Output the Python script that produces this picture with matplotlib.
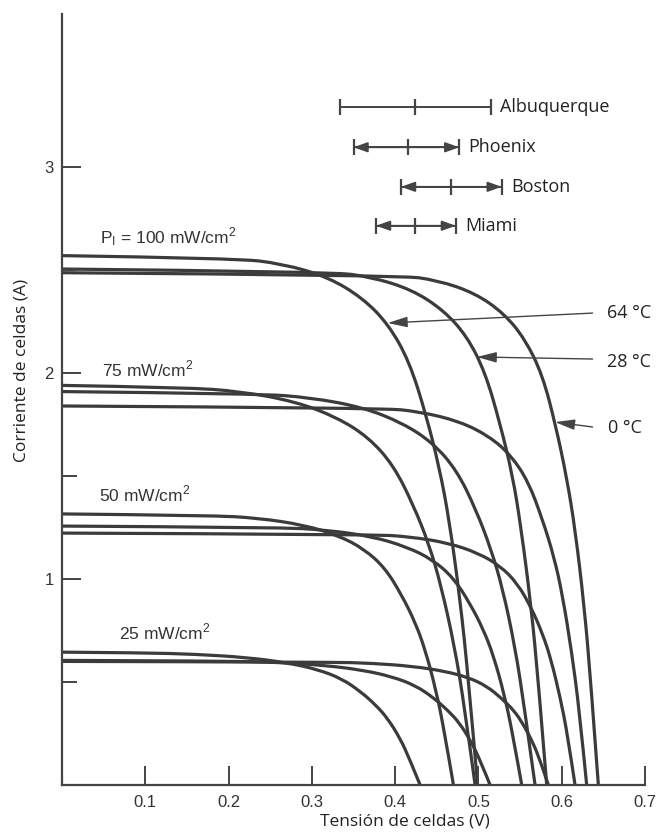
import matplotlib.pyplot as plt
from matplotlib.path import Path
from matplotlib.patches import PathPatch

# I-V curves: cell voltage (V) and cell current (A)
# 100 mW/cm2
v_100_64 = [0, 0.209, 0.264, 0.319, 0.361, 0.392, 0.417, 0.437, 0.453, 0.465, 0.478, 0.488, 0.499]
i_100_64 = [2.57, 2.557, 2.531, 2.467, 2.364, 2.236, 2.056, 1.799, 1.542, 1.285, 0.900, 0.514, 0]
v_100_28 = [0, 0.321, 0.371, 0.420, 0.458, 0.486, 0.508, 0.526, 0.541, 0.551, 0.563, 0.572, 0.582]
i_100_28 = [2.505, 2.492, 2.467, 2.405, 2.305, 2.180, 2.005, 1.754, 1.503, 1.253, 0.877, 0.501, 0]
v_100_0 = [0, 0.406, 0.451, 0.496, 0.531, 0.556, 0.577, 0.593, 0.606, 0.616, 0.627, 0.635, 0.644]
i_100_0 = [2.487, 2.475, 2.450, 2.388, 2.288, 2.164, 1.990, 1.741, 1.492, 1.244, 0.870, 0.497, 0]
# 75 mW/cm2
v_75_64 = [0, 0.148, 0.214, 0.280, 0.330, 0.368, 0.398, 0.422, 0.441, 0.455, 0.471, 0.483, 0.496]
i_75_64 = [1.94, 1.930, 1.911, 1.862, 1.785, 1.688, 1.552, 1.358, 1.164, 0.970, 0.679, 0.388, 0]
v_75_28 = [0, 0.235, 0.298, 0.361, 0.409, 0.445, 0.474, 0.497, 0.515, 0.529, 0.544, 0.555, 0.568]
i_75_28 = [1.91, 1.900, 1.881, 1.834, 1.757, 1.662, 1.528, 1.337, 1.146, 0.955, 0.669, 0.382, 0]
v_75_0 = [0, 0.384, 0.430, 0.477, 0.513, 0.539, 0.560, 0.577, 0.591, 0.601, 0.612, 0.621, 0.630]
i_75_0 = [1.84, 1.831, 1.812, 1.766, 1.693, 1.601, 1.472, 1.288, 1.104, 0.920, 0.644, 0.368, 0]
# 50 mW/cm2
v_50_64 = [0, 0.180, 0.235, 0.290, 0.332, 0.363, 0.388, 0.408, 0.424, 0.436, 0.449, 0.459, 0.470]
i_50_64 = [1.316, 1.309, 1.296, 1.263, 1.211, 1.145, 1.053, 0.921, 0.790, 0.658, 0.461, 0.263, 0]
v_50_28 = [0, 0.262, 0.317, 0.372, 0.414, 0.445, 0.470, 0.490, 0.506, 0.518, 0.531, 0.541, 0.552]
i_50_28 = [1.257, 1.251, 1.238, 1.207, 1.156, 1.094, 1.006, 0.880, 0.754, 0.629, 0.440, 0.251, 0]
v_50_0 = [0, 0.372, 0.419, 0.465, 0.500, 0.526, 0.547, 0.564, 0.577, 0.587, 0.598, 0.607, 0.616]
i_50_0 = [1.223, 1.217, 1.205, 1.174, 1.125, 1.064, 0.978, 0.856, 0.734, 0.612, 0.428, 0.245, 0]
# 25 mW/cm2
v_25_64 = [0, 0.097, 0.160, 0.223, 0.271, 0.307, 0.336, 0.359, 0.377, 0.391, 0.406, 0.417, 0.430]
i_25_64 = [0.645, 0.642, 0.635, 0.619, 0.593, 0.561, 0.516, 0.452, 0.387, 0.323, 0.226, 0.129, 0]
v_25_28 = [0, 0.195, 0.256, 0.316, 0.362, 0.396, 0.424, 0.446, 0.463, 0.477, 0.491, 0.502, 0.514]
i_25_28 = [0.605, 0.602, 0.596, 0.581, 0.557, 0.526, 0.484, 0.424, 0.363, 0.303, 0.212, 0.121, 0]
v_25_0 = [0, 0.323, 0.373, 0.422, 0.460, 0.488, 0.510, 0.528, 0.543, 0.553, 0.565, 0.574, 0.584]
i_25_0 = [0.600, 0.597, 0.591, 0.576, 0.552, 0.522, 0.480, 0.420, 0.360, 0.300, 0.210, 0.120, 0]

# voltage ranges per city (low, mid, high)
cities = ['Albuquerque', 'Phoenix', 'Boston', 'Miami']
v_low = [0.334, 0.350, 0.407, 0.377]
v_mid = [0.424, 0.416, 0.467, 0.424]
v_high = [0.515, 0.477, 0.528, 0.473]

x_ticks = [0.1, 0.2, 0.3, 0.4, 0.5, 0.6, 0.7]
y_ticks = [1, 2, 3]
y_minor = [0.5, 1.5, 2.5]

curves = [
    (v_100_64, i_100_64), (v_100_28, i_100_28), (v_100_0, i_100_0),
    (v_75_64, i_75_64), (v_75_28, i_75_28), (v_75_0, i_75_0),
    (v_50_64, i_50_64), (v_50_28, i_50_28), (v_50_0, i_50_0),
    (v_25_64, i_25_64), (v_25_28, i_25_28), (v_25_0, i_25_0),
]

line_col = '#3b3b3b'
tick_font = 'Liberation Sans'
label_font = 'Open Sans'


def smooth_path(v, i):
    # quadratic bezier through the read points, so the curve has no corners
    pts = list(zip(v, i))
    verts = [pts[0]]
    codes = [Path.MOVETO]
    for k in range(1, len(pts) - 2):
        mid = ((pts[k][0] + pts[k + 1][0]) / 2, (pts[k][1] + pts[k + 1][1]) / 2)
        verts += [pts[k], mid]
        codes += [Path.CURVE3, Path.CURVE3]
    verts += [pts[-2], pts[-1]]
    codes += [Path.CURVE3, Path.CURVE3]
    return Path(verts, codes)


fig = plt.figure(figsize=(6.6, 8.36), dpi=100)
ax = fig.add_axes([62 / 660, 51 / 836, (645 - 62) / 660, (822 - 51) / 836])

for v, i in curves:
    ax.add_patch(PathPatch(smooth_path(v, i), facecolor='none', edgecolor=line_col,
                           lw=2.3, joinstyle='round', clip_on=False))

ax.set_xlim(0, 0.7)
ax.set_ylim(0, 3.743)
for s in ['top', 'right']:
    ax.spines[s].set_visible(False)
for s in ['left', 'bottom']:
    ax.spines[s].set_linewidth(1.6)
    ax.spines[s].set_color('#444444')

ax.set_xticks(x_ticks)
ax.set_xticklabels([f'{t:.1f}' for t in x_ticks])
ax.set_yticks(y_ticks)
ax.set_yticklabels([str(t) for t in y_ticks])
ax.set_yticks(y_minor, minor=True)
ax.tick_params(axis='x', direction='in', length=14, width=1.4, color='#444444', pad=7,
               labelsize=12, labelcolor='#333333')
ax.tick_params(axis='y', which='major', direction='in', length=14, width=1.4, color='#444444',
               pad=6, labelsize=12, labelcolor='#333333')
ax.tick_params(axis='y', which='minor', direction='in', length=10.5, width=1.4, color='#444444')
for lab in ax.get_xticklabels() + ax.get_yticklabels():
    lab.set_fontfamily(tick_font)

# irradiance labels
irr_kw = dict(fontsize=12.5, color='#333333', family=tick_font, va='center', ha='left')
ax.text(0.046, 2.66, r'$\mathregular{P_I}$ = 100 mW/cm$^\mathregular{2}$', **irr_kw)
ax.text(0.048, 2.02, r'75 mW/cm$^\mathregular{2}$', **irr_kw)
ax.text(0.045, 1.41, r'50 mW/cm$^\mathregular{2}$', **irr_kw)
ax.text(0.069, 0.74, r'25 mW/cm$^\mathregular{2}$', **irr_kw)

# temperature arrows
arrow_kw = dict(arrowstyle='-|>,head_length=0.75,head_width=0.2', color='#444444', lw=1.0,
                shrinkA=0, shrinkB=0, mutation_scale=16)
ax.annotate('', xy=(0.391, 2.243), xytext=(0.637, 2.291), arrowprops=arrow_kw, annotation_clip=False)
ax.annotate('', xy=(0.498, 2.078), xytext=(0.637, 2.068), arrowprops=arrow_kw, annotation_clip=False)
ax.annotate('', xy=(0.592, 1.762), xytext=(0.637, 1.738), arrowprops=arrow_kw, annotation_clip=False)
temp_kw = dict(fontsize=13, color='#222222', family=label_font, va='center', ha='left')
ax.text(0.654, 2.291, '64 °C', **temp_kw)
ax.text(0.654, 2.053, '28 °C', **temp_kw)
ax.text(0.655, 1.733, '0 °C', **temp_kw)

# city ranges
levels = [3.290, 3.096, 2.904, 2.715]
small_arrow = dict(arrowstyle='-|>,head_length=0.7,head_width=0.25', color='#444444', lw=1.3,
                   shrinkA=0, shrinkB=0, mutation_scale=12)
for k, name in enumerate(cities):
    y = levels[k]
    ax.plot([v_low[k], v_high[k]], [y, y], color='#444444', lw=1.4)
    ax.plot([v_low[k], v_mid[k], v_high[k]], [y, y, y], ls='none', marker='|',
            markersize=11, mew=1.6, color='#444444')
    if k > 0:
        ax.annotate('', xy=(v_low[k], y), xytext=(v_mid[k], y), arrowprops=small_arrow)
        ax.annotate('', xy=(v_high[k], y), xytext=(v_mid[k], y), arrowprops=small_arrow)
    ax.text(v_high[k] + 0.011, y, name, fontsize=13, color='#222222', family=label_font,
            va='center', ha='left')

fig.text(405 / 660, 1 - 822 / 836, 'Tensión de celdas (V)', fontsize=12.5, family=label_font,
         color='#222222', ha='center', va='center')
fig.text(22 / 660, 1 - 370 / 836, 'Corriente de celdas (A)', fontsize=12.5, family=label_font,
         color='#222222', ha='center', va='center', rotation=90)

fig.savefig('out.png', dpi=100)
